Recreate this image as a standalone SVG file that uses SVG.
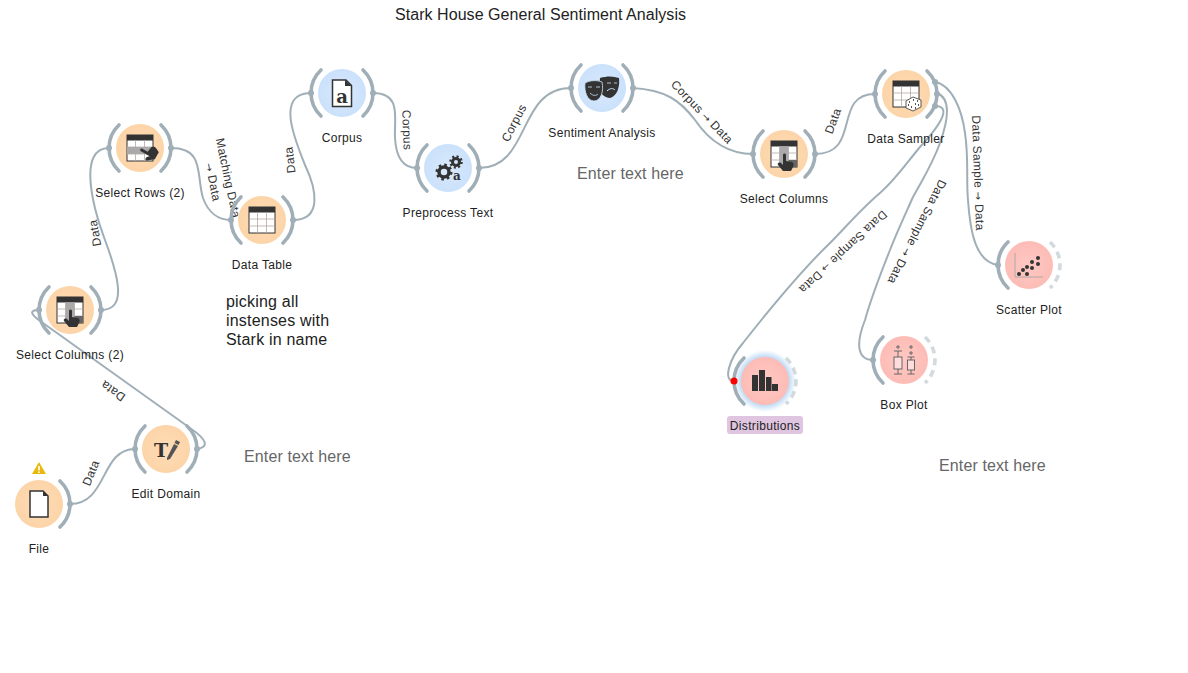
<svg xmlns="http://www.w3.org/2000/svg" width="1188" height="673" viewBox="0 0 1188 673">
<style>
text{font-family:"Liberation Sans",Arial,sans-serif;}
.nl{font-size:12px;fill:#222;text-anchor:middle;letter-spacing:.33px;}
.el{font-size:12px;fill:#333;text-anchor:middle;letter-spacing:.3px;}
.ar{font-family:"DejaVu Sans",sans-serif;font-size:10px;}
.note{font-size:16px;fill:#666;letter-spacing:.12px;}
.black{font-size:16px;fill:#222;letter-spacing:.2px;}
.c{fill:none;stroke:#a0afb7;stroke-width:2;stroke-linecap:round;}
.br{fill:none;stroke:#a0afb7;stroke-width:3.600;stroke-linecap:round;}
.dash{fill:none;stroke:#d2dadd;stroke-width:3.600;stroke-dasharray:7 5;}
.port{fill:#a0afb7;}
.ico{fill:#333;}
</style>
<defs>
<radialGradient id="go"><stop offset="0" stop-color="#ffdcb6"/><stop offset="1" stop-color="#fcd4a8"/></radialGradient>
<radialGradient id="gb"><stop offset="0" stop-color="#d8e9fc"/><stop offset="1" stop-color="#cbe1fb"/></radialGradient>
<radialGradient id="gr"><stop offset="0" stop-color="#ffc8c3"/><stop offset="1" stop-color="#fdbcb6"/></radialGradient>
<radialGradient id="glow"><stop offset="0.68" stop-color="#9cc7f0" stop-opacity="0.9"/><stop offset="1" stop-color="#9cc7f0" stop-opacity="0"/></radialGradient>
<path id="la" class="br" d="M-21,-23A31.5,31.5 0 0 0 -21,23"/>
<path id="ra" class="br" d="M21,-23A31.5,31.5 0 0 1 21,23"/>
<path id="rd" class="dash" d="M21,-23A31.5,31.5 0 0 1 21,23"/>
<g id="table"><rect x="-13" y="-13" width="26" height="26" fill="#fff" stroke="#333" stroke-width="1"/><rect x="-13" y="-13" width="26" height="5.500" fill="#333"/><path d="M-4.500,-8V13M4.500,-8V13M-13,-1H13M-13,6H13" stroke="#b5aaa5" stroke-width="0.800" fill="none"/></g>
<path id="hand" class="ico" d="M-2,-7C-2,-9 1,-9 1,-7V-1L7,0C9,1 9,3 8,5L6,9H-2L-7,3C-8,1-6,0-4,1L-2,3Z"/>
</defs>

<text x="395" y="20" font-size="16" fill="#222" id="title" textLength="291">Stark House General Sentiment Analysis</text>

<g id="connectors">
<path class="c" d="M70,504C108,504 100,449 135,449"/>
<path class="c" d="M197,449C208,447 209,441 190,428L43,323C34,317 26,310 39,310"/>
<path class="c" d="M101,310C128,310 118,275 105,240C92,205 78,148 109,148"/>
<path class="c" d="M171,148C205,148 196,175 203,198C208,212 218,220 231,220"/>
<path class="c" d="M293,220C322,220 317,190 305,165C295,140 275,93 311,93"/>
<path class="c" d="M373,93C402,93 394,118 395,138C396,156 402,168 417,168"/>
<path class="c" d="M479,168C531,168 517,88 571,88"/>
<path class="c" d="M633,88C665,90 680,100 695,120C710,142 730,154 753,154"/>
<path class="c" d="M815,154C862,154 832,94 875,94"/>
<path class="c" d="M935,82C952,85 962,110 965,133C969,160 966,180 968,200C970,230 975,262 998,265"/>
<path class="c" d="M937,93C950,98 950,115 940,143C932,165 925,175 913,197C905,215 897,232 890,250C880,275 872,295 865,320C855,345 858,360 873,360"/>
<path class="c" d="M935,106C950,106 945,120 920,147C905,165 895,180 880,193C860,210 845,228 830,243C800,272 765,315 743,343C730,358 722,381 734,381"/>
</g>

<g id="edge-labels">
<text class="el" transform="translate(91,473) rotate(-68)" y="4">Data</text>
<text class="el" transform="translate(113,391) rotate(-145)" y="4">Data</text>
<text class="el" transform="translate(95,233) rotate(-100)" y="4">Data</text>
<text class="el" transform="translate(228,178) rotate(78)" y="4">Matching Data</text>
<text class="el" transform="translate(213,182) rotate(79)" y="4"><tspan class="ar">→</tspan> Data</text>
<text class="el" transform="translate(290,160) rotate(-97)" y="4">Data</text>
<text class="el" transform="translate(407,130) rotate(88)" y="4">Corpus</text>
<text class="el" transform="translate(514,123) rotate(-63)" y="4">Corpus</text>
<text class="el" transform="translate(702,112) rotate(46)" y="4">Corpus <tspan class="ar">→</tspan> Data</text>
<text class="el" transform="translate(833,121) rotate(-70)" y="4">Data</text>
<text class="el" transform="translate(978,173) rotate(88)" y="4">Data Sample <tspan class="ar">→</tspan> Data</text>
<text class="el" transform="translate(917,232) rotate(117)" y="4">Data Sample <tspan class="ar">→</tspan> Data</text>
<text class="el" transform="translate(843,252) rotate(137)" y="4">Data Sample <tspan class="ar">→</tspan> Data</text>
</g>

<g id="file" transform="translate(39,504)">
<circle r="24" fill="url(#go)"/><use href="#ra"/><circle class="port" cx="31" r="3"/>
<path d="M-9,-13H4L9,-8V13H-9Z" fill="#fff" stroke="#333" stroke-width="1.500"/><path d="M4,-13V-8H9Z" fill="#333"/>
<path d="M0,-42L7,-30H-7Z" fill="#e8b90a"/><rect x="-0.800" y="-38" width="1.600" height="4.500" fill="#fff"/><rect x="-0.800" y="-32.500" width="1.600" height="1.500" fill="#fff"/>
<text class="nl" y="49">File</text>
</g>

<g id="edit-domain" transform="translate(166,449)">
<circle r="24" fill="url(#go)"/><use href="#la"/><use href="#ra"/><circle class="port" cx="-31" r="3"/><circle class="port" cx="31" r="3"/>
<text x="-5" y="8" text-anchor="middle" font-size="19" font-weight="700" fill="#333" style="font-family:'DejaVu Serif',serif">T</text>
<path d="M1,9L8,-5L12,-3L4,10L1,11Z" fill="#555"/><path d="M8.500,-6L10,-9L14,-7L12.500,-4Z" fill="#555"/>
<text class="nl" y="49">Edit Domain</text>
</g>

<g id="select-columns-2" transform="translate(70,310)">
<circle r="24" fill="url(#go)"/><use href="#la"/><use href="#ra"/><circle class="port" cx="-31" r="3"/><circle class="port" cx="31" r="3"/>
<use href="#table"/><rect x="-4.500" y="-7.500" width="9" height="20" fill="#aaa"/><rect x="4.500" y="6" width="8.500" height="7" fill="#666"/><use href="#hand" transform="translate(1,8)"/>
<text class="nl" y="49">Select Columns (2)</text>
</g>

<g id="select-rows-2" transform="translate(140,148)">
<circle r="24" fill="url(#go)"/><use href="#la"/><use href="#ra"/><circle class="port" cx="-31" r="3"/><circle class="port" cx="31" r="3"/>
<use href="#table"/><rect x="-13" y="-1" width="26" height="7" fill="#aaa"/><use href="#hand" transform="translate(8,5) rotate(-60)"/>
<text class="nl" y="49">Select Rows (2)</text>
</g>

<g id="data-table" transform="translate(262,220)">
<circle r="24" fill="url(#go)"/><use href="#la"/><use href="#ra"/><circle class="port" cx="-31" r="3"/><circle class="port" cx="31" r="3"/>
<use href="#table"/>
<text class="nl" y="49">Data Table</text>
</g>

<g id="corpus" transform="translate(342,93)">
<circle r="24" fill="url(#gb)"/><use href="#la"/><use href="#ra"/><circle class="port" cx="-31" r="3"/><circle class="port" cx="31" r="3"/>
<path d="M-9.500,-13H4L9.500,-7.500V13.500H-9.500Z" fill="#fff" stroke="#333" stroke-width="1.500"/><path d="M3,-13V-7H9.500Z" fill="#333"/>
<text y="10" text-anchor="middle" font-size="18" font-weight="700" fill="#333" style="font-family:'DejaVu Serif',serif">a</text>
<text class="nl" y="49">Corpus</text>
</g>

<g id="preprocess-text" transform="translate(448,168)">
<circle r="24" fill="url(#gb)"/><use href="#la"/><use href="#ra"/><circle class="port" cx="-31" r="3"/><circle class="port" cx="31" r="3"/>
<circle cx="-4" cy="4" r="5" fill="none" stroke="#333" stroke-width="3.500"/><circle cx="-4" cy="4" r="7" fill="none" stroke="#333" stroke-width="3" stroke-dasharray="2.500 3"/>
<circle cx="8" cy="-6" r="3.500" fill="none" stroke="#333" stroke-width="3"/><circle cx="8" cy="-6" r="5.500" fill="none" stroke="#333" stroke-width="2.500" stroke-dasharray="2 2.300"/>
<text x="9" y="12" text-anchor="middle" font-size="12" font-weight="700" fill="#333" style="font-family:'DejaVu Serif',serif">a</text>
<text class="nl" y="49">Preprocess Text</text>
</g>

<g id="sentiment-analysis" transform="translate(602,88)">
<circle r="24" fill="url(#gb)"/><use href="#la"/><use href="#ra"/><circle class="port" cx="-31" r="3"/><circle class="port" cx="31" r="3"/>
<path d="M-2,-10C5,-12 11,-12 17,-10C18,-1 15,8 8,10C3,10 -1,6 -3,2Z" fill="#333"/>
<path d="M-17,-5C-11,-8 -5,-8 0,-6C2,3 -1,13 -8,13C-15,13 -18,3 -17,-5Z" fill="#333" stroke="#cfe4fb" stroke-width="0.800"/>
<path d="M-12,5C-9,8 -6,8 -4,6M-14,-1H-10M-6,-1H-2M5,-5H9M12,-5H15" fill="none" stroke="#cfe4fb" stroke-width="0.800"/><path d="M5,3C8,0 11,0 13,2" fill="none" stroke="#cfe4fb"/>
<text class="nl" y="49">Sentiment Analysis</text>
</g>

<g id="select-columns" transform="translate(784,154)">
<circle r="24" fill="url(#go)"/><use href="#la"/><use href="#ra"/><circle class="port" cx="-31" r="3"/><circle class="port" cx="31" r="3"/>
<use href="#table"/><rect x="-4.500" y="-7.500" width="9" height="20" fill="#aaa"/><rect x="4.500" y="6" width="8.500" height="7" fill="#666"/><use href="#hand" transform="translate(1,8)"/>
<text class="nl" y="49">Select Columns</text>
</g>

<g id="data-sampler" transform="translate(906,94)">
<circle r="24" fill="url(#go)"/><use href="#la"/><use href="#ra"/><circle class="port" cx="-31" r="3"/><circle class="port" cx="29" cy="-12" r="3"/><circle class="port" cx="31" r="3"/><circle class="port" cx="29" cy="12" r="3"/>
<use href="#table"/>
<path d="M0,7L7,3L15,6V13L7,17L0,14Z" fill="#fff" stroke="#333" stroke-width="0.800"/>
<path d="M3,8h1M7,6h1M11,7h1M2,11h1M5,13h1M9,10h1M12,11h1M9,14h1" stroke="#222" stroke-width="1.600"/>
<text class="nl" y="49">Data Sampler</text>
</g>

<g id="scatter-plot" transform="translate(1029,265)">
<circle r="24" fill="url(#gr)"/><use href="#la"/><use href="#rd"/><circle class="port" cx="-31" r="3"/>
<path d="M-14,-12V12H14" fill="none" stroke="#aaa" stroke-width="1"/>
<g class="ico"><circle cx="-10" cy="9" r="2"/><circle cx="-6" cy="5" r="2"/><circle cx="-2" cy="9" r="2"/><circle cx="-2" cy="2" r="2"/><circle cx="3" cy="3" r="2"/><circle cx="3" cy="-3" r="2"/><circle cx="9" cy="-1" r="2"/><circle cx="9" cy="-7" r="2"/></g>
<text class="nl" y="49">Scatter Plot</text>
</g>

<g id="box-plot" transform="translate(904,360)">
<circle r="24" fill="url(#gr)"/><use href="#la"/><use href="#rd"/><circle class="port" cx="-31" r="3"/>
<path d="M-6,-15V-11M-8,-13H-4M-6,-9V14M-10,14H-2M-10,-9H-2M7,-15V-11M5,-13H9M7,-9V-5M5,-7H9M7,-3V14M3.500,14H10.500M3.500,-3H10.500" stroke="#666" stroke-width="1" fill="none"/>
<rect x="-10" y="-3" width="8" height="12" fill="#fdd" stroke="#666"/><rect x="3.500" y="0" width="7" height="10" fill="#fdd" stroke="#666"/>
<text class="nl" y="49">Box Plot</text>
</g>

<g id="distributions" transform="translate(765,381)">
<circle r="31" fill="url(#glow)"/>
<circle r="24" fill="url(#gr)"/><use href="#la"/><use href="#rd"/><circle cx="-31" r="3.500" fill="#f00"/>
<rect x="-13" y="-6" width="6" height="16" class="ico"/><rect x="-6" y="-11" width="6" height="21" class="ico"/><rect x="1" y="-4" width="5.500" height="14" class="ico"/><rect x="7" y="3" width="6" height="7" class="ico"/>
<rect x="-38" y="35" width="76" height="18" rx="3" fill="#e0c5e0"/>
<text class="nl" y="49">Distributions</text>
</g>

<text class="black" x="226" y="307">picking all</text>
<text class="black" x="226" y="326">instenses with</text>
<text class="black" x="226" y="345">Stark in name</text>
<text class="note" x="244" y="462">Enter text here</text>
<text class="note" x="577" y="179">Enter text here</text>
<text class="note" x="939" y="471">Enter text here</text>
</svg>
